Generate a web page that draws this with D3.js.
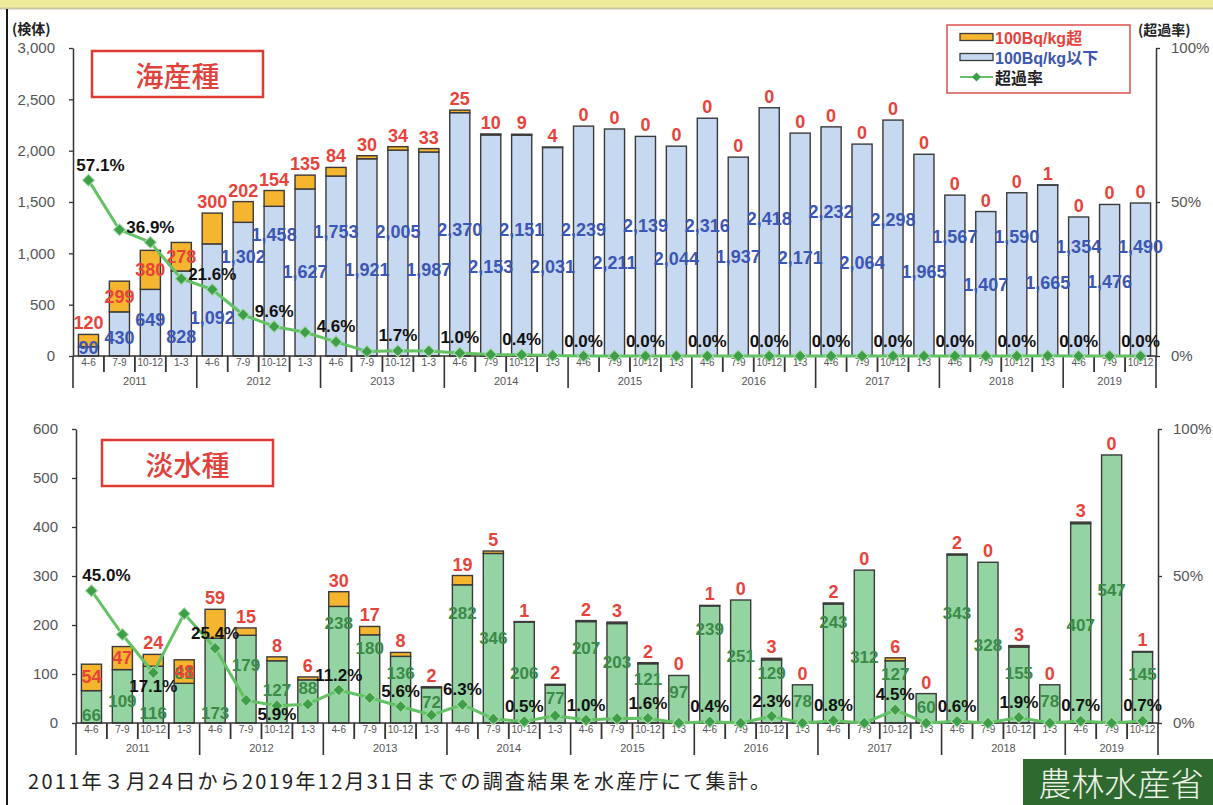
<!DOCTYPE html>
<html>
<head>
<meta charset="utf-8">
<script src="https://cdn.jsdelivr.net/npm/d3@7"></script>
<style>
  html, body { margin: 0; padding: 0; background: #fff; }
  svg { display: block; }
</style>
</head>
<body>
<svg id="chart" width="1213" height="805"></svg>
<script>
// ---- data ----
const fiscalYears = ["2011", "2012", "2013", "2014", "2015", "2016", "2017", "2018", "2019"];
const quarterNames = ["4-6", "7-9", "10-12", "1-3"];
const lastYearQuarters = ["4-6", "7-9", "10-12"];

// 海産種 (marine species): samples at or below / above 100 Bq/kg, and exceedance rate (%)
const marineBelow = [90, 430, 649, 828, 1092, 1302, 1458, 1627, 1753, 1921, 2005, 1987,
  2370, 2153, 2151, 2031, 2239, 2211, 2139, 2044, 2316, 1937, 2418, 2171,
  2232, 2064, 2298, 1965, 1567, 1407, 1590, 1665, 1354, 1476, 1490];
const marineOver = [120, 299, 380, 278, 300, 202, 154, 135, 84, 30, 34, 33,
  25, 10, 9, 4, 0, 0, 0, 0, 0, 0, 0, 0,
  0, 0, 0, 0, 0, 0, 0, 1, 0, 0, 0];
const marineRate = [57.1, 41.0, 36.9, 25.1, 21.6, 13.4, 9.6, 7.7, 4.6, 1.5, 1.7, 1.6,
  1.0, 0.5, 0.4, 0.2, 0.0, 0.0, 0.0, 0.0, 0.0, 0.0, 0.0, 0.0,
  0.0, 0.0, 0.0, 0.0, 0.0, 0.0, 0.0, 0.1, 0.0, 0.0, 0.0];

// 淡水種 (freshwater species)
const freshBelow = [66, 109, 116, 81, 173, 179, 127, 88, 238, 180, 136, 72,
  282, 346, 206, 77, 207, 203, 121, 97, 239, 251, 129, 78,
  243, 312, 127, 60, 343, 328, 155, 78, 407, 547, 145];
const freshOver = [54, 47, 24, 48, 59, 15, 8, 6, 30, 17, 8, 2,
  19, 5, 1, 2, 2, 3, 2, 0, 1, 0, 3, 0,
  2, 0, 6, 0, 2, 0, 3, 0, 3, 0, 1];
const freshRate = [45.0, 30.1, 17.1, 37.2, 25.4, 7.7, 5.9, 6.4, 11.2, 8.6, 5.6, 2.7,
  6.3, 1.4, 0.5, 2.5, 1.0, 1.5, 1.6, 0.0, 0.4, 0.0, 2.3, 0.0,
  0.8, 0.0, 4.5, 0.0, 0.6, 0.0, 1.9, 0.0, 0.7, 0.0, 0.7];

// axis ticks
const marineTicks = [0, 500, 1000, 1500, 2000, 2500, 3000];
const freshTicks = [0, 100, 200, 300, 400, 500, 600];
const rateTicks = [0, 50, 100];

// ---- label layout (height, in count units, where the in-bar count label sits) ----
const marineLabelAt = [80, 175, 350, 185, 370, 965, 1180, 820, 1210, 840, 1210, 840,
  1230, 865, 1230, 865, 1230, 905, 1265, 945, 1265, 965, 1335, 955,
  1400, 905, 1325, 820, 1160, 690, 1160, 710, 1060, 720, 1060];
const freshLabelAt = [16, 43, 20, 102, 20, 118, 67, 71, 204, 153, 102, 41,
  224, 173, 102, 51, 153, 124, 88, 63, 190, 135, 102, 43,
  206, 133, 98, 31, 224, 159, 102, 43, 200, 271, 98];

// periods: fiscal year + quarter
const periods = fiscalYears.flatMap(y =>
  (y === "2019" ? lastYearQuarters : quarterNames).map(q => y + "|" + q));

const svg = d3.select("#chart");
const NUM_FONT = "'Liberation Sans', Arial, Helvetica, sans-serif";
const JP_FONT = "'Noto Sans CJK JP', 'Noto Sans', sans-serif";

// ---- page frame ----
svg.append("rect").attr("x", 0).attr("y", 0).attr("width", 1213).attr("height", 8)
  .attr("fill", "#eeeb9c");
svg.append("line").attr("x1", 0).attr("x2", 1213).attr("y1", 8.5).attr("y2", 8.5)
  .attr("stroke", "#c9c7a6").attr("stroke-width", 2);
svg.append("line").attr("x1", 7).attr("x2", 7).attr("y1", 9).attr("y2", 805)
  .attr("stroke", "#1a1a1a").attr("stroke-width", 2);

function drawPanel(p) {
  const g = svg.append("g");
  const x = d3.scaleBand().domain(periods).range([p.left, p.right])
    .paddingInner(0.35).paddingOuter(0.175);
  const y = d3.scaleLinear().domain([0, p.maxCount]).range([p.base, p.top]);
  const yr = d3.scaleLinear().domain([0, 100]).range([p.base, p.top]);
  const step = x.step();
  const bw = x.bandwidth();
  const cx = k => x(k) + bw / 2;
  const boundary = i => x(periods[0]) - step * 0.175 + step * i;

  const rows = periods.map((k, i) => ({
    k, i, below: p.below[i], over: p.over[i], rate: p.rate[i], labelAt: p.labelAt[i]
  }));

  // title box
  g.append("rect").attr("x", p.titleBox[0]).attr("y", p.titleBox[1])
    .attr("width", p.titleBox[2]).attr("height", p.titleBox[3])
    .attr("fill", "#fff").attr("stroke", "#de3b33").attr("stroke-width", 2.5);
  g.append("text").attr("x", p.titleBox[0] + p.titleBox[2] / 2)
    .attr("y", p.titleBox[1] + p.titleBox[3] / 2 + 1)
    .attr("text-anchor", "middle").attr("dominant-baseline", "central")
    .attr("font-family", JP_FONT).attr("font-size", 28).attr("font-weight", 500)
    .attr("fill", "#e0413a").text(p.title);

  // left axis
  const axL = d3.axisLeft(y).tickValues(p.ticks).tickFormat(d3.format(","))
    .tickSize(4).tickSizeOuter(0).tickPadding(14);
  const gl = g.append("g").attr("transform", `translate(${p.left},0)`).call(axL);
  // right axis
  const axR = d3.axisRight(yr).tickValues(rateTicks).tickFormat(d => d + "%")
    .tickSize(4).tickSizeOuter(0).tickPadding(11);
  const gr = g.append("g").attr("transform", `translate(${p.right},0)`).call(axR);
  [gl, gr].forEach(a => {
    a.select(".domain").attr("stroke", "#333").attr("stroke-width", 1.5);
    a.selectAll(".tick line").attr("stroke", "#333").attr("stroke-width", 1.3);
    a.selectAll(".tick text").attr("font-family", NUM_FONT).attr("font-size", 15)
      .attr("fill", "#555");
  });

  // bars: at or below limit
  g.selectAll(".lo").data(rows).join("rect").attr("class", "lo")
    .attr("x", d => x(d.k)).attr("width", bw)
    .attr("y", d => y(d.below)).attr("height", d => y(0) - y(d.below))
    .attr("fill", p.fill).attr("stroke", "#3a3a3a").attr("stroke-width", 1.4);
  // bars: above limit
  g.selectAll(".hi").data(rows).join("rect").attr("class", "hi")
    .attr("x", d => x(d.k)).attr("width", bw)
    .attr("y", d => y(d.below + d.over)).attr("height", d => y(d.below) - y(d.below + d.over))
    .attr("fill", "#f6b52f").attr("stroke", "#3a3a3a").attr("stroke-width", 1.4);

  // category axis
  g.append("line").attr("x1", p.left).attr("x2", p.right)
    .attr("y1", p.base).attr("y2", p.base).attr("stroke", "#333").attr("stroke-width", 1.3);
  d3.range(0, periods.length + 1).forEach(i => {
    const isYear = i % 4 === 0 || i === periods.length;
    g.append("line").attr("x1", boundary(i)).attr("x2", boundary(i))
      .attr("y1", p.base).attr("y2", p.base + (isYear ? 32 : 16))
      .attr("stroke", "#333").attr("stroke-width", isYear ? 1.6 : 1.8);
  });
  g.selectAll(".qlab").data(rows).join("text").attr("class", "qlab")
    .attr("x", d => cx(d.k)).attr("y", p.base + 6).attr("dominant-baseline", "central")
    .attr("text-anchor", "middle").attr("font-family", NUM_FONT).attr("font-size", 10)
    .attr("fill", "#555").text(d => d.k.split("|")[1]);
  fiscalYears.forEach((yName, j) => {
    const first = j * 4;
    const last = Math.min(first + 4, periods.length);
    g.append("text").attr("x", (boundary(first) + boundary(last)) / 2)
      .attr("y", p.base + 25).attr("dominant-baseline", "central")
      .attr("text-anchor", "middle").attr("font-family", NUM_FONT).attr("font-size", 11)
      .attr("fill", "#555").text(yName);
  });

  // in-bar count labels
  g.selectAll(".blab").data(rows).join("text").attr("class", "blab")
    .attr("x", d => cx(d.k)).attr("y", d => y(d.labelAt))
    .attr("dominant-baseline", "central").attr("text-anchor", "middle")
    .attr("font-family", NUM_FONT).attr("font-size", p.labelSize).attr("font-weight", "bold")
    .attr("fill", p.labelColor).text(d => d3.format(",")(d.below));

  // above-limit count labels
  g.selectAll(".olab").data(rows).join("text").attr("class", "olab")
    .attr("x", d => cx(d.k))
    .attr("y", d => p.overInside.includes(d.i)
      ? (y(d.below) + y(d.below + d.over)) / 2
      : y(d.below + d.over) - 11)
    .attr("dominant-baseline", "central").attr("text-anchor", "middle")
    .attr("font-family", NUM_FONT).attr("font-size", 18).attr("font-weight", "bold")
    .attr("fill", "#e8433a").text(d => d.over);

  // exceedance rate line
  const line = d3.line().x(d => cx(d.k)).y(d => yr(d.rate));
  g.append("path").datum(rows).attr("d", line).attr("fill", "none")
    .attr("stroke", "#62c264").attr("stroke-width", 3).attr("stroke-linejoin", "round");
  const diamond = d3.symbol(d3.symbolSquare, 72);
  g.selectAll(".mk").data(rows).join("path").attr("class", "mk")
    .attr("d", diamond)
    .attr("transform", d => `translate(${cx(d.k)},${yr(d.rate)}) rotate(45)`)
    .attr("fill", "#3f9f49").attr("stroke", "#a9dca9").attr("stroke-width", 1);

  // rate labels on every other quarter
  g.selectAll(".rlab").data(rows.filter(d => d.i % 2 === 0)).join("text").attr("class", "rlab")
    .attr("x", d => cx(d.k) + (d.i === 0 ? p.firstRateDx : 0))
    .attr("y", d => yr(d.rate) + (d.i in p.rateBelow ? p.rateBelow[d.i] : -15))
    .attr("dominant-baseline", "central").attr("text-anchor", "middle")
    .attr("font-family", NUM_FONT).attr("font-size", 17).attr("font-weight", "bold")
    .attr("fill", "#111").text(d => d.rate.toFixed(1) + "%");
}

drawPanel({
  title: "海産種", titleBox: [92, 51, 171, 46],
  left: 73, right: 1156, top: 48, base: 356, maxCount: 3000, ticks: marineTicks,
  below: marineBelow, over: marineOver, rate: marineRate, labelAt: marineLabelAt,
  fill: "#c6d9f0", labelColor: "#3c56b4", labelSize: 18,
  overInside: [1, 2, 3], rateBelow: {}, firstRateDx: 12
});

drawPanel({
  title: "淡水種", titleBox: [102, 440, 171, 46],
  left: 76, right: 1158, top: 429, base: 723, maxCount: 600, ticks: freshTicks,
  below: freshBelow, over: freshOver, rate: freshRate, labelAt: freshLabelAt,
  fill: "#93d4a2", labelColor: "#3b8a47", labelSize: 17,
  overInside: [0, 1, 3], rateBelow: { 2: 14, 6: 9 }, firstRateDx: 15
});

// unit captions
svg.append("text").attr("x", 12).attr("y", 28).attr("dominant-baseline", "central")
  .attr("font-family", JP_FONT).attr("font-size", 14).attr("font-weight", "bold")
  .attr("fill", "#222").text("(検体)");
svg.append("text").attr("x", 1138).attr("y", 29).attr("dominant-baseline", "central")
  .attr("font-family", JP_FONT).attr("font-size", 14).attr("font-weight", "bold")
  .attr("fill", "#222").text("(超過率)");

// legend
const lg = svg.append("g");
lg.append("rect").attr("x", 947).attr("y", 25).attr("width", 183).attr("height", 68)
  .attr("fill", "#fff").attr("stroke", "#df5a55").attr("stroke-width", 1.6);
const legendItems = [
  { label: "100Bq/kg超", color: "#e8433a", kind: "bar", fill: "#f6b52f" },
  { label: "100Bq/kg以下", color: "#3c56b4", kind: "bar", fill: "#c6d9f0" },
  { label: "超過率", color: "#222", kind: "line" }
];
legendItems.forEach((it, i) => {
  const cy = 37 + i * 20;
  if (it.kind === "bar") {
    lg.append("rect").attr("x", 960).attr("y", cy - 3.5).attr("width", 33).attr("height", 7)
      .attr("fill", it.fill).attr("stroke", "#3a3a3a").attr("stroke-width", 1.3);
  } else {
    lg.append("line").attr("x1", 960).attr("x2", 993).attr("y1", cy).attr("y2", cy)
      .attr("stroke", "#62c264").attr("stroke-width", 2);
    lg.append("path").attr("d", d3.symbol(d3.symbolSquare, 40))
      .attr("transform", `translate(976.5,${cy}) rotate(45)`).attr("fill", "#3f9f49");
  }
  lg.append("text").attr("x", 995).attr("y", cy + 1).attr("dominant-baseline", "central")
    .attr("font-family", NUM_FONT + ", " + JP_FONT).attr("font-size", 16).attr("font-weight", "bold")
    .attr("fill", it.color).text(it.label);
});

// source note
svg.append("text").attr("x", 28).attr("y", 789)
  .attr("font-family", JP_FONT).attr("font-size", 20).attr("fill", "#222")
  .attr("textLength", 742).attr("lengthAdjust", "spacing")
  .text("2011年３月24日から2019年12月31日までの調査結果を水産庁にて集計。");

// ministry badge
svg.append("rect").attr("x", 1023).attr("y", 759).attr("width", 190).attr("height", 46)
  .attr("fill", "#2e6a30");
svg.append("text").attr("x", 1121).attr("y", 782).attr("dominant-baseline", "central")
  .attr("text-anchor", "middle").attr("font-family", JP_FONT).attr("font-size", 33)
  .attr("font-weight", 300).attr("fill", "#eef3e8").text("農林水産省");
</script>
</body>
</html>
